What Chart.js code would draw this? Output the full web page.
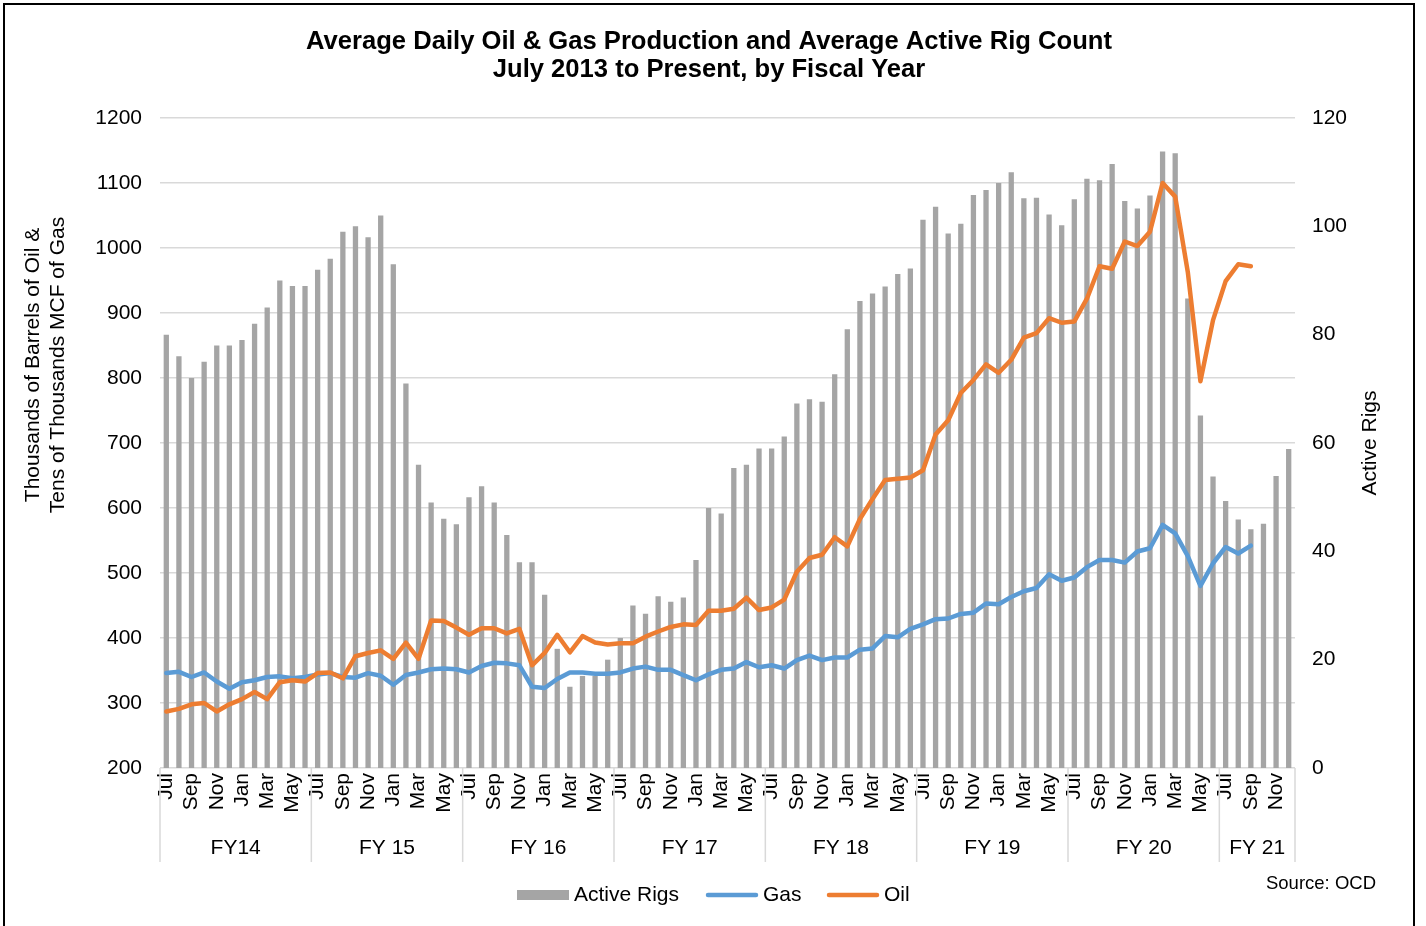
<!DOCTYPE html>
<html lang="en">
<head>
  <meta charset="UTF-8">
  <title>Average Daily Oil & Gas Production and Average Active Rig Count</title>
  <script src="https://cdn.jsdelivr.net/npm/chart.js"></script>
  <style>
    html, body { margin: 0; padding: 0; background: #fff; }
    canvas { display: block; }
  </style>
</head>
<body>

<canvas id="rigChart" width="1426" height="926"></canvas>

<script>
// fiscal years (July - June) and how many months each one shows
var fiscalYears = ['FY14', 'FY 15', 'FY 16', 'FY 17', 'FY 18', 'FY 19', 'FY 20', 'FY 21'];
var monthsInYear = [12, 12, 12, 12, 12, 12, 12, 6];
var monthNames = ['Jul', 'Aug', 'Sep', 'Oct', 'Nov', 'Dec', 'Jan', 'Feb', 'Mar', 'Apr', 'May', 'Jun'];

// average active rigs, Jul 2013 - Dec 2020 (right axis)
var activeRigs = [
  80, 76, 72, 75, 78, 78, 79, 82, 85, 90, 89, 89,
  92, 94, 99, 100, 98, 102, 93, 71, 56, 49, 46, 45,
  50, 52, 49, 43, 38, 38, 32, 22, 15, 17, 17, 20,
  24, 30, 28.5, 31.7, 30.7, 31.5, 38.4, 48, 47, 55.4, 56, 59,
  59, 61.2, 67.3, 68.1, 67.6, 72.7, 81, 86.2, 87.6, 88.9, 91.2, 92.2,
  101.2, 103.6, 98.7, 100.5, 105.8, 106.7, 108, 110, 105.2, 105.3, 102.2, 100.2,
  105, 108.8, 108.5, 111.5, 104.7, 103.3, 105.7, 113.8, 113.5, 86.7, 65.1, 53.8,
  49.3, 45.9, 44.1, 45.1, 53.9, 58.9
];

// thousands of barrels of oil / tens of thousands MCF of gas (left axis), Jul 2013 - Sep 2020
var gas = [
  346, 348, 340, 347, 333, 322, 332, 335, 340, 341, 338, 340,
  344, 346, 340, 339, 346, 342, 328, 343, 347, 352, 353, 352,
  347, 357, 362, 361, 358, 325, 323, 337, 347, 347, 345, 345,
  347, 353, 356, 351, 351, 343, 335, 344, 351, 353, 363, 355,
  358, 353, 366, 373, 366, 370, 370, 382, 384, 403, 401, 414,
  421, 429, 430, 437, 439, 453, 452, 463, 472, 477, 498, 488,
  493, 509, 520, 520, 516, 533, 538, 574, 561, 526, 480, 515,
  540, 530, 542
];

var oil = [
  287, 291, 298, 300, 287, 298, 306, 317, 306, 332, 335, 333,
  346, 347, 338, 372, 377, 381, 368, 393, 368, 427, 426, 416,
  405, 415, 415, 407, 414, 358, 377, 405, 378, 403, 393, 390,
  392, 392, 402, 410, 417, 421, 420, 442, 442, 445, 462, 443,
  447, 459, 502, 523, 528, 555, 541, 583, 614, 643, 645, 647,
  658, 713, 735, 777, 797, 821, 808, 828, 862, 869, 892, 885,
  887, 922, 972, 968, 1010, 1003, 1025, 1100, 1079, 963, 795, 889,
  949, 975, 972
];

var titleLines = ['Average Daily Oil & Gas Production and Average Active Rig Count',
                  'July 2013 to Present, by Fiscal Year'];
var leftTitle = ['Thousands of Barrels of Oil &', 'Tens of Thousands MCF of Gas'];
var rightTitle = 'Active Rigs';
var sourceNote = 'Source: OCD';

// build the month categories from the fiscal years
var categories = [];
monthsInYear.forEach(function (n) {
  for (var m = 0; m < n; m++) categories.push(monthNames[m]);
});

var FONT = '"Liberation Sans", Arial, sans-serif';
var RIG_COLOR = '#a5a5a5';
var GAS_COLOR = '#5b9bd5';
var OIL_COLOR = '#ed7d31';

// title, axis titles, fiscal-year groups, legend, source and frame
var decorations = {
  id: 'decorations',
  afterDraw: function (chart) {
    var ctx = chart.ctx;
    var xs = chart.scales.x;
    var area = chart.chartArea;
    ctx.save();
    ctx.fillStyle = '#000';
    ctx.textBaseline = 'middle';

    // title
    ctx.textAlign = 'center';
    ctx.font = 'bold 25.6px ' + FONT;
    ctx.fillText(titleLines[0], 709, 42);
    ctx.fillText(titleLines[1], 709, 70);

    // axis titles
    ctx.font = '21px ' + FONT;
    ctx.save();
    ctx.translate(33, 365);
    ctx.rotate(-Math.PI / 2);
    ctx.fillText(leftTitle[0], 0, 0);
    ctx.fillText(leftTitle[1], 0, 25);
    ctx.restore();
    ctx.save();
    ctx.translate(1370, 443);
    ctx.rotate(-Math.PI / 2);
    ctx.fillText(rightTitle, 0, 0);
    ctx.restore();

    // fiscal year groups under the month labels
    var half = (xs.getPixelForValue(1) - xs.getPixelForValue(0)) / 2;
    var start = 0;
    ctx.strokeStyle = '#d9d9d9';
    ctx.lineWidth = 1.5;
    for (var g = 0; g < fiscalYears.length; g++) {
      var x0 = xs.getPixelForValue(start) - half;
      var x1 = xs.getPixelForValue(start + monthsInYear[g] - 1) + half;
      ctx.beginPath();
      ctx.moveTo(x0, area.bottom);
      ctx.lineTo(x0, 862);
      ctx.stroke();
      if (g === fiscalYears.length - 1) {
        ctx.beginPath();
        ctx.moveTo(x1, area.bottom);
        ctx.lineTo(x1, 862);
        ctx.stroke();
      }
      ctx.fillText(fiscalYears[g], (x0 + x1) / 2, 848);
      start += monthsInYear[g];
    }

    // legend
    var ly = 895;
    ctx.textAlign = 'left';
    ctx.fillStyle = RIG_COLOR;
    ctx.fillRect(517, ly - 5, 52, 10);
    ctx.fillStyle = '#000';
    ctx.fillText(chart.data.datasets[0].label, 574, ly);
    ctx.lineCap = 'round';
    ctx.lineWidth = 4.5;
    ctx.strokeStyle = GAS_COLOR;
    ctx.beginPath(); ctx.moveTo(708, ly); ctx.lineTo(756, ly); ctx.stroke();
    ctx.fillText(chart.data.datasets[1].label, 763, ly);
    ctx.strokeStyle = OIL_COLOR;
    ctx.beginPath(); ctx.moveTo(829, ly); ctx.lineTo(877, ly); ctx.stroke();
    ctx.fillText(chart.data.datasets[2].label, 884, ly);

    // source
    ctx.textAlign = 'right';
    ctx.font = '18.5px ' + FONT;
    ctx.fillText(sourceNote, 1376, 884);

    // frame
    ctx.strokeStyle = '#000';
    ctx.lineWidth = 2;
    ctx.lineCap = 'butt';
    ctx.strokeRect(4, 4, 1410, 940);
    ctx.restore();
  }
};

var tickFont = { family: FONT, size: 21 };

new Chart(document.getElementById('rigChart').getContext('2d'), {
  type: 'bar',
  data: {
    labels: categories,
    datasets: [{
      type: 'bar',
      label: 'Active Rigs',
      data: activeRigs,
      yAxisID: 'y1',
      backgroundColor: RIG_COLOR,
      barPercentage: 0.42,
      categoryPercentage: 1.0,
      order: 3
    }, {
      type: 'line',
      label: 'Gas',
      data: gas,
      yAxisID: 'y',
      borderColor: GAS_COLOR,
      backgroundColor: GAS_COLOR,
      borderWidth: 4.5,
      pointRadius: 0,
      tension: 0,
      borderCapStyle: 'round',
      borderJoinStyle: 'round',
      order: 2
    }, {
      type: 'line',
      label: 'Oil',
      data: oil,
      yAxisID: 'y',
      borderColor: OIL_COLOR,
      backgroundColor: OIL_COLOR,
      borderWidth: 4.5,
      pointRadius: 0,
      tension: 0,
      borderCapStyle: 'round',
      borderJoinStyle: 'round',
      order: 1
    }]
  },
  options: {
    responsive: false,
    animation: false,
    layout: { padding: { top: 118, left: 0, right: 0, bottom: 0 } },
    plugins: {
      legend: { display: false },
      title: { display: false },
      tooltip: { enabled: false }
    },
    scales: {
      x: {
        grid: { display: false, drawTicks: false },
        border: { display: false },
        ticks: {
          autoSkip: false,
          minRotation: 90,
          maxRotation: 90,
          padding: 5,
          color: '#000',
          font: tickFont,
          callback: function (value, index) {
            return index % 2 === 0 ? this.getLabelForValue(value) : '';
          }
        },
        afterFit: function (scale) { scale.height = 158; }
      },
      y: {
        position: 'left',
        min: 200,
        max: 1200,
        ticks: {
          stepSize: 100, padding: 18, color: '#000', font: tickFont,
          callback: function (value) { return String(value); }
        },
        grid: { color: '#d9d9d9', lineWidth: 1.5, drawTicks: false },
        border: { display: false },
        afterFit: function (scale) { scale.width = 160; }
      },
      y1: {
        position: 'right',
        min: 0,
        max: 120,
        ticks: {
          stepSize: 20, padding: 17, color: '#000', font: tickFont,
          callback: function (value) { return String(value); }
        },
        grid: { display: false, drawTicks: false },
        border: { display: false },
        afterFit: function (scale) { scale.width = 131; }
      }
    }
  },
  plugins: [decorations]
});
</script>

</body>
</html>
